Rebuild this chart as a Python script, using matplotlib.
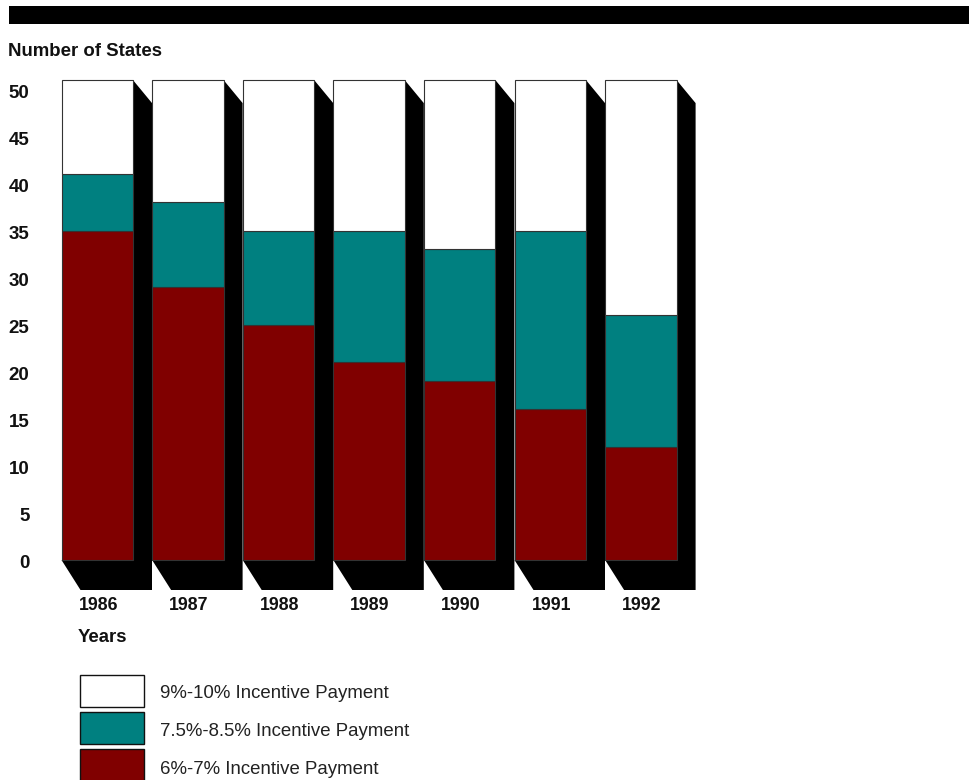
import matplotlib
matplotlib.use("Agg")
import matplotlib.pyplot as plt
from matplotlib.patches import Polygon, Rectangle
from matplotlib.transforms import blended_transform_factory

plt.rcParams['font.family'] = ['Liberation Sans', 'DejaVu Sans']

years = ["1986", "1987", "1988", "1989", "1990", "1991", "1992"]
low_6_7 = [35, 29, 25, 21, 19, 16, 12]
mid_75_85 = [6, 9, 10, 14, 14, 19, 14]
high_9_10 = [10, 13, 16, 16, 18, 16, 25]
y_ticks = [0, 5, 10, 15, 20, 25, 30, 35, 40, 45, 50]
series_labels = ["9%-10% Incentive Payment", "7.5%-8.5% Incentive Payment", "6%-7% Incentive Payment"]

RED = "#800000"
TEAL = "#008080"
WHITE = "#ffffff"

W, H = 969, 780
fig = plt.figure(figsize=(W / 100, H / 100), dpi=100)

# axes in pixel layout
px_per_x = 90.6
x0_px = 97.25
ax_left_px = x0_px + px_per_x * (-0.5)
ax_right_px = x0_px + px_per_x * 7.0
px_per_y = 9.41
y0_px = 560
ylo, yhi = -4, 53
ax_bottom_px = y0_px - px_per_y * ylo
ax_top_px = y0_px - px_per_y * yhi
ax = fig.add_axes([ax_left_px / W, 1 - ax_bottom_px / H,
                   (ax_right_px - ax_left_px) / W, (ax_bottom_px - ax_top_px) / H])
ax.set_xlim(-0.5, 7.0)
ax.set_ylim(ylo, yhi)
ax.axis('off')

bw = 71.5 / px_per_x
ddx = 19 / px_per_x
dtop = 23 / px_per_y
dbot = 30 / px_per_y

xs = list(range(len(years)))
totals = [a + b + c for a, b, c in zip(low_6_7, mid_75_85, high_9_10)]
for i, x in enumerate(xs):
    xl = x - bw / 2
    xr = x + bw / 2
    top = totals[i]
    shadow = Polygon([(xl, 0), (xl + ddx, -dbot), (xr + ddx, -dbot),
                      (xr + ddx, top - dtop), (xr, top), (xr, 0)],
                     closed=True, facecolor='black', edgecolor='none', zorder=1)
    ax.add_patch(shadow)

EC = '#333333'
ax.bar(xs, low_6_7, width=bw, color=RED, edgecolor=EC, linewidth=0.8, zorder=2)
ax.bar(xs, mid_75_85, width=bw, bottom=low_6_7, color=TEAL, edgecolor=EC, linewidth=0.8, zorder=2)
bottoms2 = [a + b for a, b in zip(low_6_7, mid_75_85)]
ax.bar(xs, high_9_10, width=bw, bottom=bottoms2, color=WHITE, edgecolor=EC, linewidth=0.8, zorder=2)

# y tick labels
trans_y = blended_transform_factory(fig.transFigure, ax.transData)
for t in y_ticks:
    ax.text(29.5 / W, t - 0.2, str(t), transform=trans_y, ha='right', va='center_baseline',
            fontsize=13.5, fontweight='bold', color='#111111')

# year labels
for x, lab in zip(xs, years):
    fig.text((x0_px + px_per_x * x + 1) / W, 1 - 604 / H, lab, ha='center', va='center_baseline',
             fontsize=12.8, fontweight='bold', color='#111111')

fig.text(8 / W, 1 - 50 / H, "Number of States", ha='left', va='center_baseline',
         fontsize=13.4, fontweight='bold', color='#111111')
fig.text(78 / W, 1 - 636 / H, "Years", ha='left', va='center_baseline',
         fontsize=13.4, fontweight='bold', color='#111111')

# top black band
fig.patches.append(Rectangle((9 / W, 1 - 24 / H), 1 - 9 / W, 18 / H,
                             transform=fig.transFigure, facecolor='black',
                             edgecolor='none', figure=fig))

# legend
leg_colors = [WHITE, TEAL, RED]
leg_boxes = [(675, 707), (712, 744), (749, 781)]
leg_text_y = [691, 730, 768]
for (yt, yb), col, lab, ty in zip(leg_boxes, leg_colors, series_labels, leg_text_y):
    fig.patches.append(Rectangle((80 / W, 1 - yb / H), 64 / W, (yb - yt) / H,
                                 transform=fig.transFigure, facecolor=col,
                                 edgecolor='#111111', linewidth=1.0, figure=fig))
    fig.text(160 / W, 1 - ty / H, lab, ha='left', va='center_baseline',
             fontsize=13.4, color='#222222')

fig.savefig("out.png", dpi=100)
